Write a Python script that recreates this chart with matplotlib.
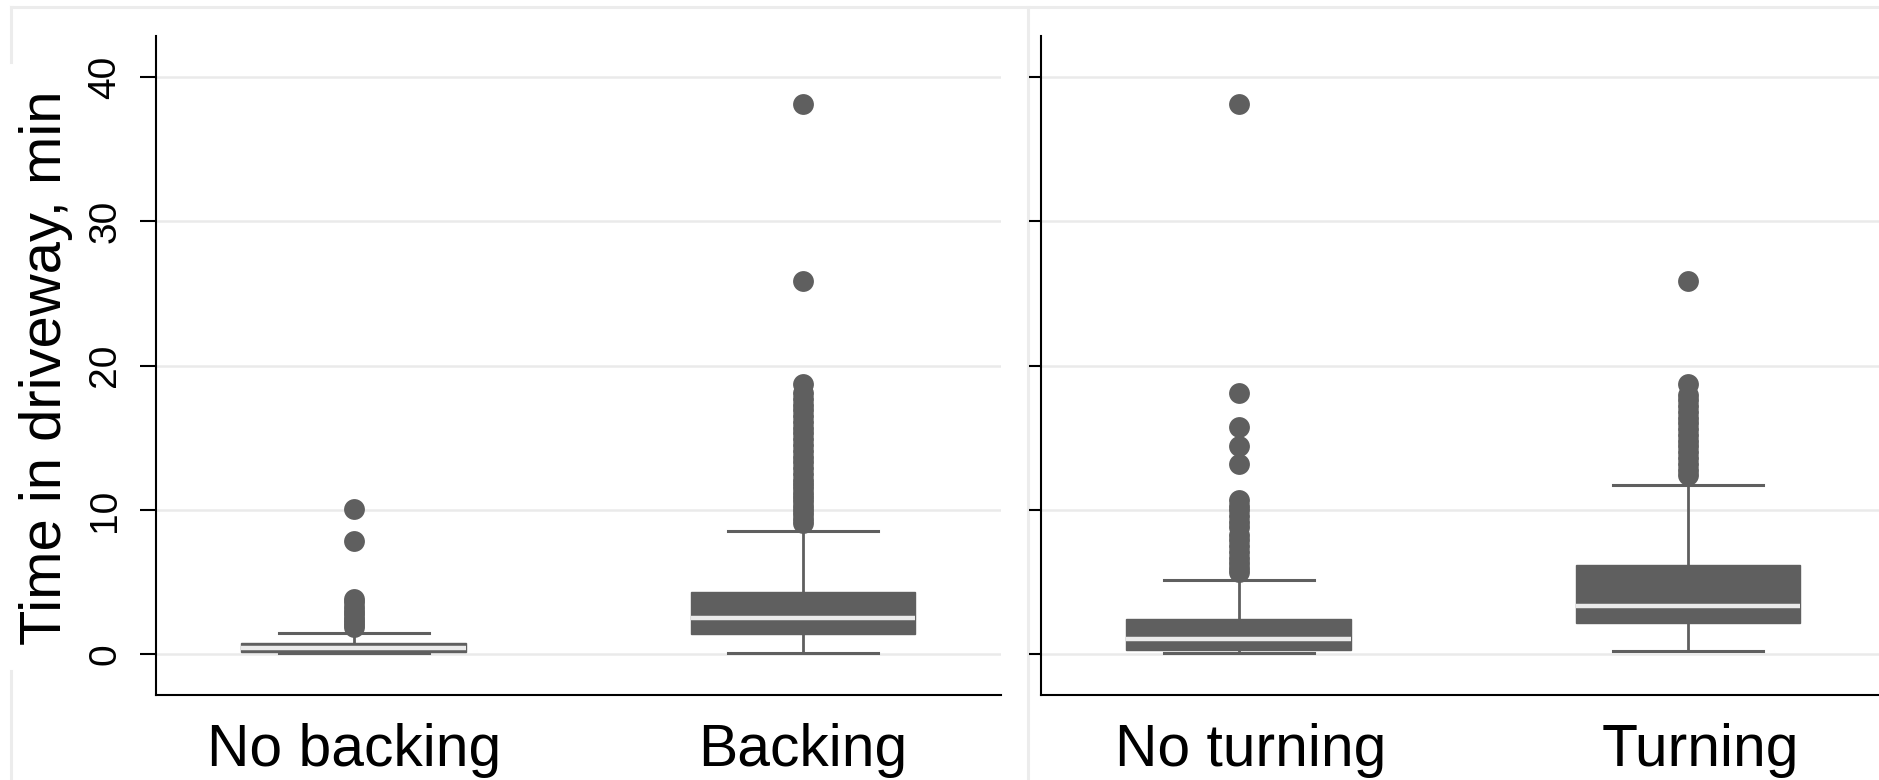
import matplotlib
matplotlib.use("Agg")
import matplotlib.pyplot as plt
from matplotlib.lines import Line2D
from matplotlib.transforms import ScaledTranslation

plt.rcParams['font.family'] = ['Liberation Sans', 'DejaVu Sans']

# ---- data (minutes) ----
left_labels = ["No backing", "Backing"]
right_labels = ["No turning", "Turning"]

q1_left = [0.17, 1.41]
med_left = [0.42, 2.49]
q3_left = [0.80, 4.29]
wlo_left = [0.09, 0.09]
whi_left = [1.45, 8.52]
fliers_no_backing = [1.9, 2.1, 2.3, 2.5, 2.8, 3.0, 3.3, 3.6, 3.85, 7.85, 10.1]
fliers_backing = [9.1, 9.4, 9.7, 10.0, 10.3, 10.6, 10.9, 11.2, 11.5, 11.8, 12.1,
                  12.5, 12.9, 13.3, 13.7, 14.1, 14.5, 14.9, 15.3, 15.7, 16.1,
                  16.5, 16.9, 17.3, 17.7, 18.1, 18.75, 25.85, 38.1]

q1_right = [0.30, 2.19]
med_right = [1.08, 3.35]
q3_right = [2.42, 6.18]
wlo_right = [0.09, 0.25]
whi_right = [5.15, 11.74]
fliers_no_turning = [5.7, 6.0, 6.3, 6.7, 7.1, 7.5, 7.9, 8.3, 8.8, 9.2, 9.6,
                     10.0, 10.3, 10.7, 13.2, 14.45, 15.75, 18.1, 38.1]
fliers_turning = [12.4, 12.8, 13.2, 13.6, 14.0, 14.4, 14.8, 15.2, 15.6, 16.0,
                  16.4, 16.8, 17.2, 17.6, 18.0, 18.75, 25.85]

yticks = [0, 10, 20, 30, 40]
ylabel = "Time in driveway, min"

# ---- style ----
W, H = 1879, 780
GRAY = "#5f5f5f"
GRID = "#eaeaea"
FRAME = "#ececec"

fig = plt.figure(figsize=(W / 100, H / 100), dpi=100)
fig.patch.set_facecolor("white")


def build_stats(labels, q1, med, q3, wlo, whi, fliers):
    return [dict(label=labels[i], q1=q1[i], med=med[i], q3=q3[i],
                 whislo=wlo[i], whishi=whi[i], fliers=fliers[i])
            for i in range(len(labels))]


def draw_panel(ax, stats, show_ylabels, ticklen):
    ax.set_facecolor("white")
    ax.bxp(stats, positions=[1, 2], widths=0.5, capwidths=0.334,
           patch_artist=True,
           boxprops=dict(facecolor=GRAY, edgecolor=GRAY, linewidth=1.0),
           medianprops=dict(color="#ebebeb", linewidth=3.2, solid_capstyle="butt"),
           whiskerprops=dict(color=GRAY, linewidth=2.0),
           capprops=dict(color=GRAY, linewidth=2.2),
           flierprops=dict(marker="o", markerfacecolor=GRAY, markeredgecolor=GRAY,
                           markeredgewidth=0, markersize=15))
    ax.set_xlim(0.56, 2.44)
    ax.set_ylim(-2.82, 42.84)
    ax.set_yticks(yticks)
    ax.yaxis.grid(True, color=GRID, linewidth=1.8)
    ax.xaxis.grid(False)
    ax.set_axisbelow(True)
    for s in ["top", "right"]:
        ax.spines[s].set_visible(False)
    for s in ["left", "bottom"]:
        ax.spines[s].set_linewidth(1.5)
        ax.spines[s].set_color("black")
    ax.tick_params(axis="x", length=0, pad=20, labelsize=42.3)
    ax.tick_params(axis="y", length=ticklen, width=1.5, direction="out",
                   pad=12, labelsize=28)
    if show_ylabels:
        ax.set_yticklabels([str(t) for t in yticks], rotation=90, va="center")
    else:
        ax.set_yticklabels([])


axw = 844.7 / W
axb = 1 - 695 / H
axh = (695 - 36) / H

ax1 = fig.add_axes([156 / W, axb, axw, axh])
draw_panel(ax1, build_stats(left_labels, q1_left, med_left, q3_left, wlo_left,
                            whi_left, [fliers_no_backing, fliers_backing]),
           True, 11.5)

ax2 = fig.add_axes([1041 / W, axb, axw, axh])
draw_panel(ax2, build_stats(right_labels, q1_right, med_right, q3_right, wlo_right,
                            whi_right, [fliers_no_turning, fliers_turning]),
           False, 8.5)
# the right panel's category labels sit slightly right of their boxes in the reference
shift = ScaledTranslation(12 / 100, 0, fig.dpi_scale_trans)
for lab in ax2.get_xticklabels():
    lab.set_transform(lab.get_transform() + shift)

# y label
fig.text(46 / W, 1 - 368 / H, ylabel, rotation=90, ha="center", va="center",
         fontsize=41.8, color="black")

# light graph-region frame lines (Stata style)
def fline(x0, y0, x1, y1):
    fig.add_artist(Line2D([x0 / W, x1 / W], [1 - y0 / H, 1 - y1 / H],
                          color=FRAME, linewidth=2.2, transform=fig.transFigure,
                          zorder=0))

fline(11, 7, W, 7)
fline(11, 7, 11, 62)
fline(11, 671, 11, H)
fline(1028, 7, 1028, H)

fig.savefig("out.png", dpi=100, facecolor="white")
